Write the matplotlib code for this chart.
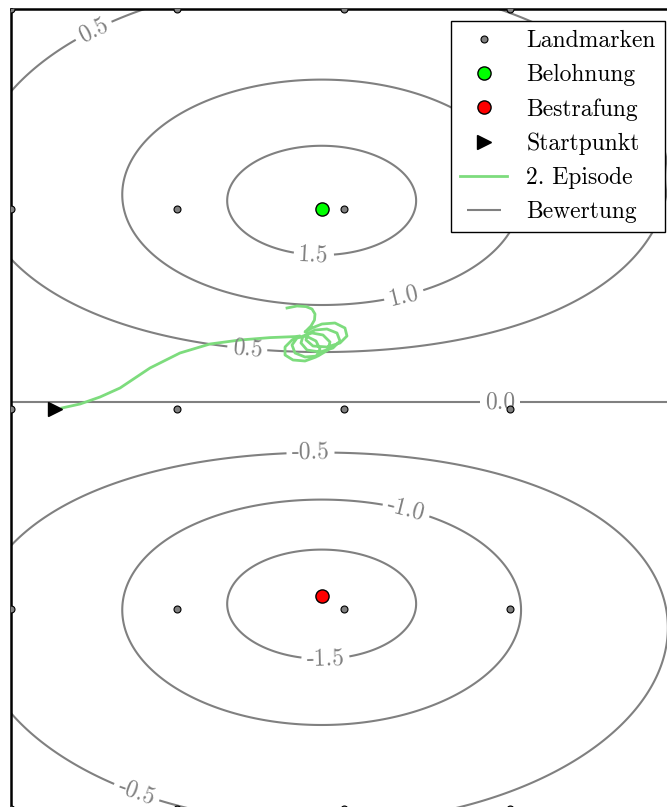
import numpy as np
import matplotlib
matplotlib.use('Agg')
import matplotlib.pyplot as plt
from matplotlib.lines import Line2D

plt.rcParams['font.family'] = 'serif'
plt.rcParams['font.serif'] = ['cmr10']
plt.rcParams['mathtext.fontset'] = 'cm'
plt.rcParams['axes.formatter.use_mathtext'] = True
plt.rcParams['axes.unicode_minus'] = False

# landmark grid
landmark_x = [0, 1, 2, 3, 4]
landmark_y = [0, 1, 2, 3, 4]

# reward / punishment / start
reward_pos = (1.867, 3.0)
punish_pos = (1.867, 1.067)
start_pos = (0.265, 2.0)

# evaluation field: reward bump minus punishment bump
amplitude = 2.0
width_x = 1.53
width_y = 0.76
levels = [-1.5, -1.0, -0.5, 0.0, 0.5, 1.0, 1.5]

# label anchor points, one per contour label
label_points = [(0.48, 3.92), (1.82, 2.77), (2.36, 2.57), (1.42, 2.30),
                (2.94, 2.03), (1.80, 1.78), (2.37, 1.48), (1.89, 0.74),
                (0.75, 0.07)]

# second episode trajectory
episode_x = [0.307, 0.416, 0.536, 0.656, 0.836, 1.016, 1.196, 1.377, 1.557, 1.707,
             1.737, 1.689, 1.647, 1.647, 1.695, 1.767, 1.833, 1.857, 1.833, 1.773,
             1.719, 1.689, 1.707, 1.767, 1.845, 1.905, 1.917, 1.875, 1.809,
             1.755, 1.743, 1.779, 1.857, 1.935, 1.977, 1.959, 1.899, 1.827,
             1.779, 1.773, 1.815, 1.899, 1.977, 2.019, 2.007, 1.947, 1.869, 1.809,
             1.767, 1.803, 1.824, 1.827, 1.809, 1.773, 1.719, 1.659]
episode_y = [2.005, 2.025, 2.060, 2.105, 2.205, 2.280, 2.325, 2.345, 2.357, 2.362,
             2.365, 2.345, 2.310, 2.270, 2.245, 2.240, 2.260, 2.300, 2.340, 2.365,
             2.355, 2.320, 2.280, 2.260, 2.265, 2.295, 2.335, 2.370, 2.380,
             2.365, 2.330, 2.295, 2.285, 2.305, 2.340, 2.380, 2.400, 2.395,
             2.375, 2.345, 2.315, 2.310, 2.330, 2.365, 2.405, 2.430, 2.425, 2.405,
             2.385, 2.415, 2.445, 2.475, 2.500, 2.512, 2.515, 2.505]


def bump(X, Y, pos):
    return 1.0 / (1.0 + ((X - pos[0]) / width_x) ** 2 + ((Y - pos[1]) / width_y) ** 2)


fig = plt.figure(figsize=(6.67, 8.07), dpi=100)
ax = fig.add_axes([10.8 / 667, -2 / 807, 666 / 667, 800 / 807])

gx = np.linspace(0, 4, 401)
gy = np.linspace(0, 4, 401)
X, Y = np.meshgrid(gx, gy)
Z = amplitude * (bump(X, Y, reward_pos) - bump(X, Y, punish_pos))

cs = ax.contour(X, Y, Z, levels=levels, colors='gray', linewidths=1.5,
                linestyles='solid', zorder=1)
ax.clabel(cs, inline=True, fmt='%1.1f', fontsize=17, manual=label_points)

ax.plot(episode_x, episode_y, color='#7ddc7d', linewidth=2.0, zorder=2,
        solid_joinstyle='round', label='2. Episode')

lx, ly = np.meshgrid(landmark_x, landmark_y)
ax.plot(lx.ravel(), ly.ravel(), 'o', color='gray', markeredgecolor='black',
        markersize=5, markeredgewidth=0.8, zorder=3, label='Landmarken')
ax.plot(*reward_pos, 'o', color='#00ff00', markeredgecolor='black',
        markersize=9.5, markeredgewidth=1.0, zorder=4, label='Belohnung')
ax.plot(*punish_pos, 'o', color='red', markeredgecolor='black',
        markersize=9.5, markeredgewidth=1.0, zorder=4, label='Bestrafung')
ax.plot(*start_pos, '>', color='black', markersize=10, zorder=4,
        label='Startpunkt')

ax.set_xlim(0, 4)
ax.set_ylim(0, 4)
ax.set_xticks([])
ax.set_yticks([])
for side in ax.spines.values():
    side.set_linewidth(1.8)

bew = Line2D([], [], color='gray', marker='_', markersize=25,
             markeredgewidth=1.5, linestyle='none', label='Bewertung')
handles, labels = ax.get_legend_handles_labels()
order = ['Landmarken', 'Belohnung', 'Bestrafung', 'Startpunkt', '2. Episode']
hmap = dict(zip(labels, handles))
leg = ax.legend([hmap[k] for k in order] + [bew], order + ['Bewertung'],
                loc='upper right', fontsize=17, fancybox=False, framealpha=1,
                edgecolor='black')
leg.get_frame().set_linewidth(1.0)

fig.savefig('out.png', dpi=100)
